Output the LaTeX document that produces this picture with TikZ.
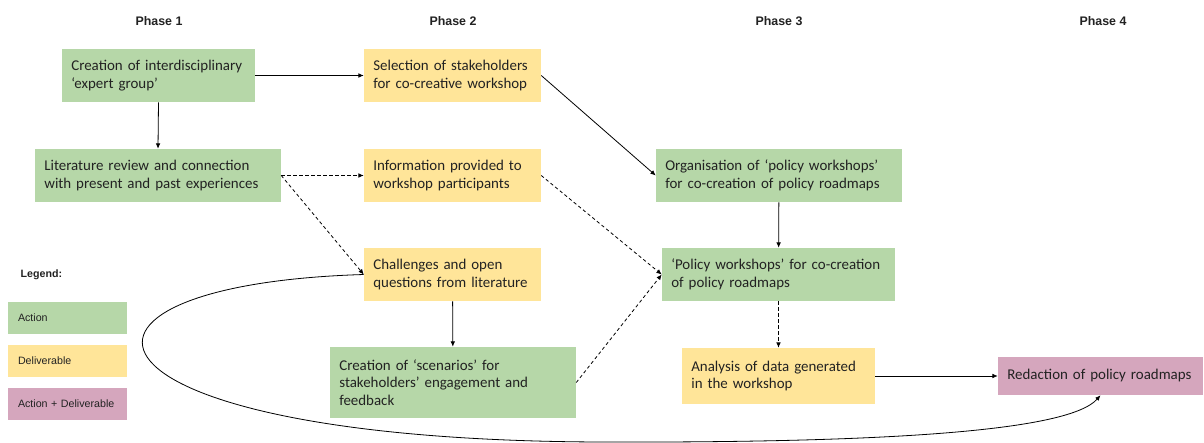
\documentclass[tikz,border=0pt]{standalone}
\usepackage{fontspec}
\setmainfont{Carlito}
\newfontfamily\arialfont{Liberation Sans}
\usetikzlibrary{arrows.meta}
\newcommand{\boxFont}[0]{\fontsize{11.2}{13.1}\selectfont}
\newcommand{\legendFont}[0]{\arialfont\fontsize{8}{10}\selectfont}
\newcommand{\lineWidth}[0]{0.6pt}
\definecolor{actiongreen}{HTML}{B6D7A8}
\definecolor{delivyellow}{HTML}{FFE599}
\definecolor{bothpink}{HTML}{D5A6BD}
\definecolor{inkgrey}{HTML}{222222}

\begin{document}
\begin{tikzpicture}[x=0.75pt, y=-0.75pt, >={Latex[length=4pt,width=3.5pt]}]
  \tikzset{every node/.style={text=inkgrey},
    box/.style={align=left, inner xsep=7pt, font=\boxFont,
      minimum height=39.75pt, text width=#1-14pt, minimum width=#1},
    action/.style={box=#1, fill=actiongreen},
    deliv/.style={box=#1, fill=delivyellow},
    both/.style={box=#1, fill=bothpink},
    legendbox/.style={align=left, inner xsep=7.5pt, font=\legendFont,
      minimum height=24pt, text width=89.25pt-15pt, minimum width=89.25pt},
    phase/.style={font=\arialfont\bfseries\fontsize{9.3}{11}\selectfont}}
  \useasboundingbox (0,0) rectangle (1204,443);
  % phase headings
  \node[phase] (P-1) at (159,21) {Phase 1};
  \node[phase] (P-2) at (453,21) {Phase 2};
  \node[phase] (P-3) at (779,21) {Phase 3};
  \node[phase] (P-4) at (1103,21) {Phase 4};
  % boxes
  \node[action=144.75pt] (A-1) at (158.5,75.5) {Creation of interdisciplinary\\`expert group'};
  \node[action=184.5pt] (A-2) at (158,175.5) {Literature review and connection\\with present and past experiences};
  \node[deliv=132.75pt] (D-1) at (452.5,75.5) {Selection of stakeholders\\for co-creative workshop};
  \node[deliv=132.75pt] (D-2) at (452.5,175.5) {Information provided to\\workshop participants};
  \node[deliv=132.75pt] (D-3) at (452.5,274.5) {Challenges and open\\questions from literature};
  \node[action=184.5pt, minimum height=53.25pt] (A-3) at (453,382.5) {Creation of `scenarios' for\\stakeholders' engagement and\\feedback};
  \node[action=184.5pt] (A-4) at (779,175.5) {Organisation of `policy workshops'\\for co-creation of policy roadmaps};
  \node[action=174.75pt] (A-5) at (778.5,274.5) {`Policy workshops' for co-creation\\of policy roadmaps};
  \node[deliv=144.75pt, minimum height=42pt] (D-4) at (778.5,376) {Analysis of data generated\\in the workshop};
  \node[both=153.75pt, minimum height=28.5pt] (AD-1) at (1100.5,376) {Redaction of policy roadmaps};
  % legend
  \node[font=\arialfont\bfseries\fontsize{8}{10}\selectfont, anchor=west] (L-0) at (16,275) {Legend:};
  \node[legendbox, fill=actiongreen] (L-A) at (67.5,318) {Action};
  \node[legendbox, fill=delivyellow] (L-D) at (67.5,361) {Deliverable};
  \node[legendbox, fill=bothpink] (L-AD) at (67.5,404) {Action + Deliverable};
  % connectors
  \tikzset{flow/.style={line width=\lineWidth, ->},
    maybe/.style={flow, dash pattern=on 2.5pt off 2pt}}
  \draw[flow] (A-1) -- (D-1);
  \draw[flow] (A-1.south) -- (A-2.north);
  \draw[flow] (D-1.east) -- (A-4.west);
  \draw[maybe] (A-2.east) -- (D-2.west);
  \draw[maybe] (A-2.east) -- (D-3.west);
  \draw[maybe] (D-2.east) -- (A-5.west);
  \draw[maybe] (A-3.east) -- (A-5.west);
  \draw[flow] (D-3) -- (A-3);
  \draw[flow] (A-4) -- (A-5);
  \draw[maybe] (A-5) -- (D-4);
  \draw[flow] (D-4) -- (AD-1);
  \draw[flow] (D-3.west) .. controls (20,285) and (60,440) .. (600,442)
    .. controls (900,443) and (1070,430) .. (AD-1.south);
\end{tikzpicture}
\end{document}
